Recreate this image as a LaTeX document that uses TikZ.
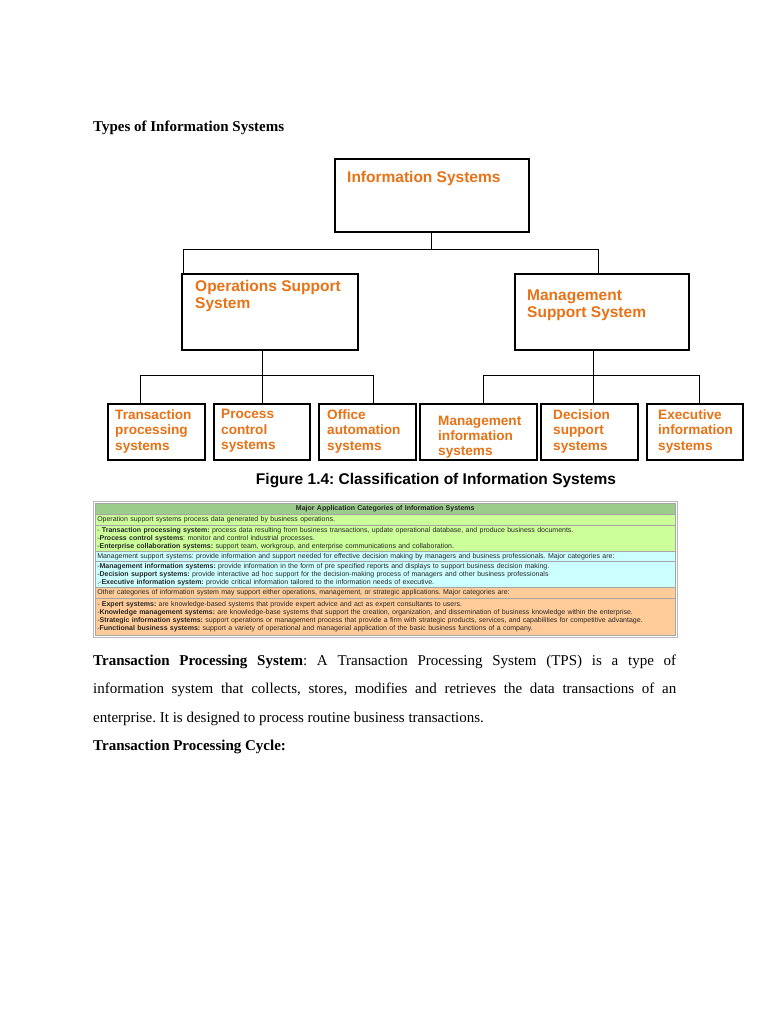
\documentclass[tikz,border=0pt]{standalone}
\usepackage{fontspec}
\setmainfont{Liberation Serif}
\newfontfamily\arialfont{Liberation Sans}
\usetikzlibrary{positioning}
\definecolor{orgtxt}{RGB}{232,114,22}
\definecolor{hdrgreen}{RGB}{156,204,140}
\definecolor{lgreen}{RGB}{204,255,153}
\definecolor{lcyan}{RGB}{204,255,255}
\definecolor{lorange}{RGB}{255,204,153}
\frenchspacing

\begin{document}
\begin{tikzpicture}[x=1pt, y=-1pt,
		sysbox/.style={draw=black, line width=1.8pt, fill=white, anchor=north west, inner sep=0},
		boxlbl/.style={anchor=north west, inner sep=0, align=left, text=orgtxt, font=\arialfont\bfseries\fontsize{15.5}{17}\selectfont},
		sublbl/.style={anchor=north west, inner sep=0, align=left, text=orgtxt, font=\arialfont\bfseries\fontsize{13.6}{15.5}\selectfont},
		link/.style={draw=black, line width=0.9pt},
		cell/.style={draw=gray!70, line width=0.5pt, anchor=north west, minimum width=580, inner xsep=2pt, inner ysep=0pt, text width=576, align=left, font=\arialfont\fontsize{7}{8}\selectfont, text=black!85},
		heading/.style={anchor=base west, inner sep=0, font=\bfseries\fontsize{15}{18}\selectfont}
	]
	\fill[white] (0,0) rectangle (768,1024);
	\useasboundingbox (0,0) rectangle (768,1024);

	\node[heading] (title) at (93,132) {Types of Information Systems};

	% Top level
	\node[sysbox, minimum width=194, minimum height=73] (info) at (334,158) {};
	\node[boxlbl] (infoLbl) at ([xshift=13pt, yshift=-13pt]info.north west) {Information Systems};

	% Second level
	\node[sysbox, minimum width=176, minimum height=76] (ops) at (181,273) {};
	\node[boxlbl] (opsLbl) at ([xshift=14pt, yshift=-7pt]ops.north west) {Operations Support\\System};
	\node[sysbox, minimum width=174, minimum height=76] (mss) at (514,273) {};
	\node[boxlbl] (mssLbl) at ([xshift=13pt, yshift=-17pt]mss.north west) {Management\\Support System};

	% Third level
	\node[sysbox, minimum width=97, minimum height=56] (tps) at (107,403) {};
	\node[sysbox, minimum width=96, minimum height=56] (pcs) at (213,403) {};
	\node[sysbox, minimum width=97, minimum height=56] (oas) at (318,403) {};
	\node[sysbox, minimum width=117, minimum height=56] (mis) at (419,403) {};
	\node[sysbox, minimum width=97, minimum height=56] (dss) at (540,403) {};
	\node[sysbox, minimum width=96, minimum height=56] (eis) at (646,403) {};
	\node[sublbl] (tpsLbl) at ([xshift=8pt, yshift=-6pt]tps.north west) {Transaction\\processing\\systems};
	\node[sublbl] (pcsLbl) at ([xshift=8pt, yshift=-6pt]pcs.north west) {Process\\control\\systems};
	\node[sublbl] (oasLbl) at ([xshift=9pt, yshift=-6pt]oas.north west) {Office\\automation\\systems};
	\node[sublbl, font=\arialfont\bfseries\fontsize{13.6}{14.8}\selectfont] (misLbl) at ([xshift=19pt, yshift=-13pt]mis.north west) {Management\\information\\systems};
	\node[sublbl] (dssLbl) at ([xshift=13pt, yshift=-6pt]dss.north west) {Decision\\support\\systems};
	\node[sublbl] (eisLbl) at ([xshift=12pt, yshift=-6pt]eis.north west) {Executive\\information\\systems};

	% Connectors
	\draw[link] (info.south) -- ++(0,17) coordinate (infoBus);
	\draw[link] ([xshift=2pt]ops.north west) |- (infoBus) -| ([xshift=-3pt]mss.north);
	\draw[link] ([xshift=-7pt]ops.south) -- ++(0,25) coordinate (opsBus);
	\draw[link] ([xshift=-16pt]tps.north) |- (opsBus) -| ([xshift=6pt]oas.north);
	\draw[link] (opsBus) -- (opsBus |- pcs.north);
	\draw[link] ([xshift=-8pt]mss.south) -- ++(0,25) coordinate (mssBus);
	\draw[link] ([xshift=5pt]mis.north) |- (mssBus) -| ([xshift=5pt]eis.north);
	\draw[link] (mssBus) -- (mssBus |- dss.north);

	\node[anchor=base, inner sep=0, font=\arialfont\bfseries\fontsize{15.5}{18}\selectfont] (caption) at (436,484) {Figure 1.4: Classification of Information Systems};

	% Table of categories
	\node[draw=gray!55, line width=1.2pt, minimum width=584, minimum height=136, anchor=north west, inner sep=0] (tbl) at (93,501) {};
	\node[cell, fill=hdrgreen, minimum height=11, align=center, font=\arialfont\bfseries\fontsize{7}{8}\selectfont] (hdr) at (95,503) {Major Application Categories of Information Systems};
	\node[cell, fill=lgreen, minimum height=11] (opsIntro) at (95,514) {Operation support systems process data generated by business operations.};
	\node[cell, fill=lgreen, minimum height=26] (opsList) at (95,525) {- \textbf{Transaction processing system:} process data resulting from business transactions, update operational database, and produce business documents.\\
		-\textbf{Process control systems}: monitor and control industrial processes.\\
		-\textbf{Enterprise collaboration systems:} support team, workgroup, and enterprise communications and collaboration.};
	\node[cell, fill=lcyan, minimum height=10] (mssIntro) at (95,551) {Management support systems: provide information and support needed for effective decision making by managers and business professionals. Major categories are:};
	\node[cell, fill=lcyan, minimum height=26] (mssList) at (95,561) {-\textbf{Management information systems:} provide information in the form of pre specified reports and displays to support business decision making.\\
		-\textbf{Decision support systems:} provide interactive ad hoc support for the decision-making process of managers and other business professionals\\
		.-\textbf{Executive information system:} provide critical information tailored to the information needs of executive.};
	\node[cell, fill=lorange, minimum height=11] (otherIntro) at (95,587) {Other categories of information system may support either operations, management, or strategic applications. Major categories are:};
	\node[cell, fill=lorange, minimum height=37] (otherList) at (95,598) {- \textbf{Expert systems:} are knowledge-based systems that provide expert advice and act as expert consultants to users.\\
		-\textbf{Knowledge management systems:} are knowledge-base systems that support the creation, organization, and dissemination of business knowledge within the enterprise.\\
		-\textbf{Strategic information systems:} support operations or management process that provide a firm with strategic products, services, and capabilities for competitive advantage.\\
		-\textbf{Functional business systems:} support a variety of operational and managerial application of the basic business functions of a company.};

	% Body text
	\node[anchor=north west, inner sep=0, text width=583, align=justify, font=\fontsize{15}{28.7}\selectfont] (tpsPara) at (93,654.5) {\textbf{Transaction Processing System}: A Transaction Processing System (TPS) is a type of\linebreak information system that collects, stores, modifies and retrieves the data transactions of an\linebreak enterprise. It is designed to process routine business transactions.};

	\node[heading] (cycle) at (93,750) {Transaction Processing Cycle:};
\end{tikzpicture}
\end{document}
